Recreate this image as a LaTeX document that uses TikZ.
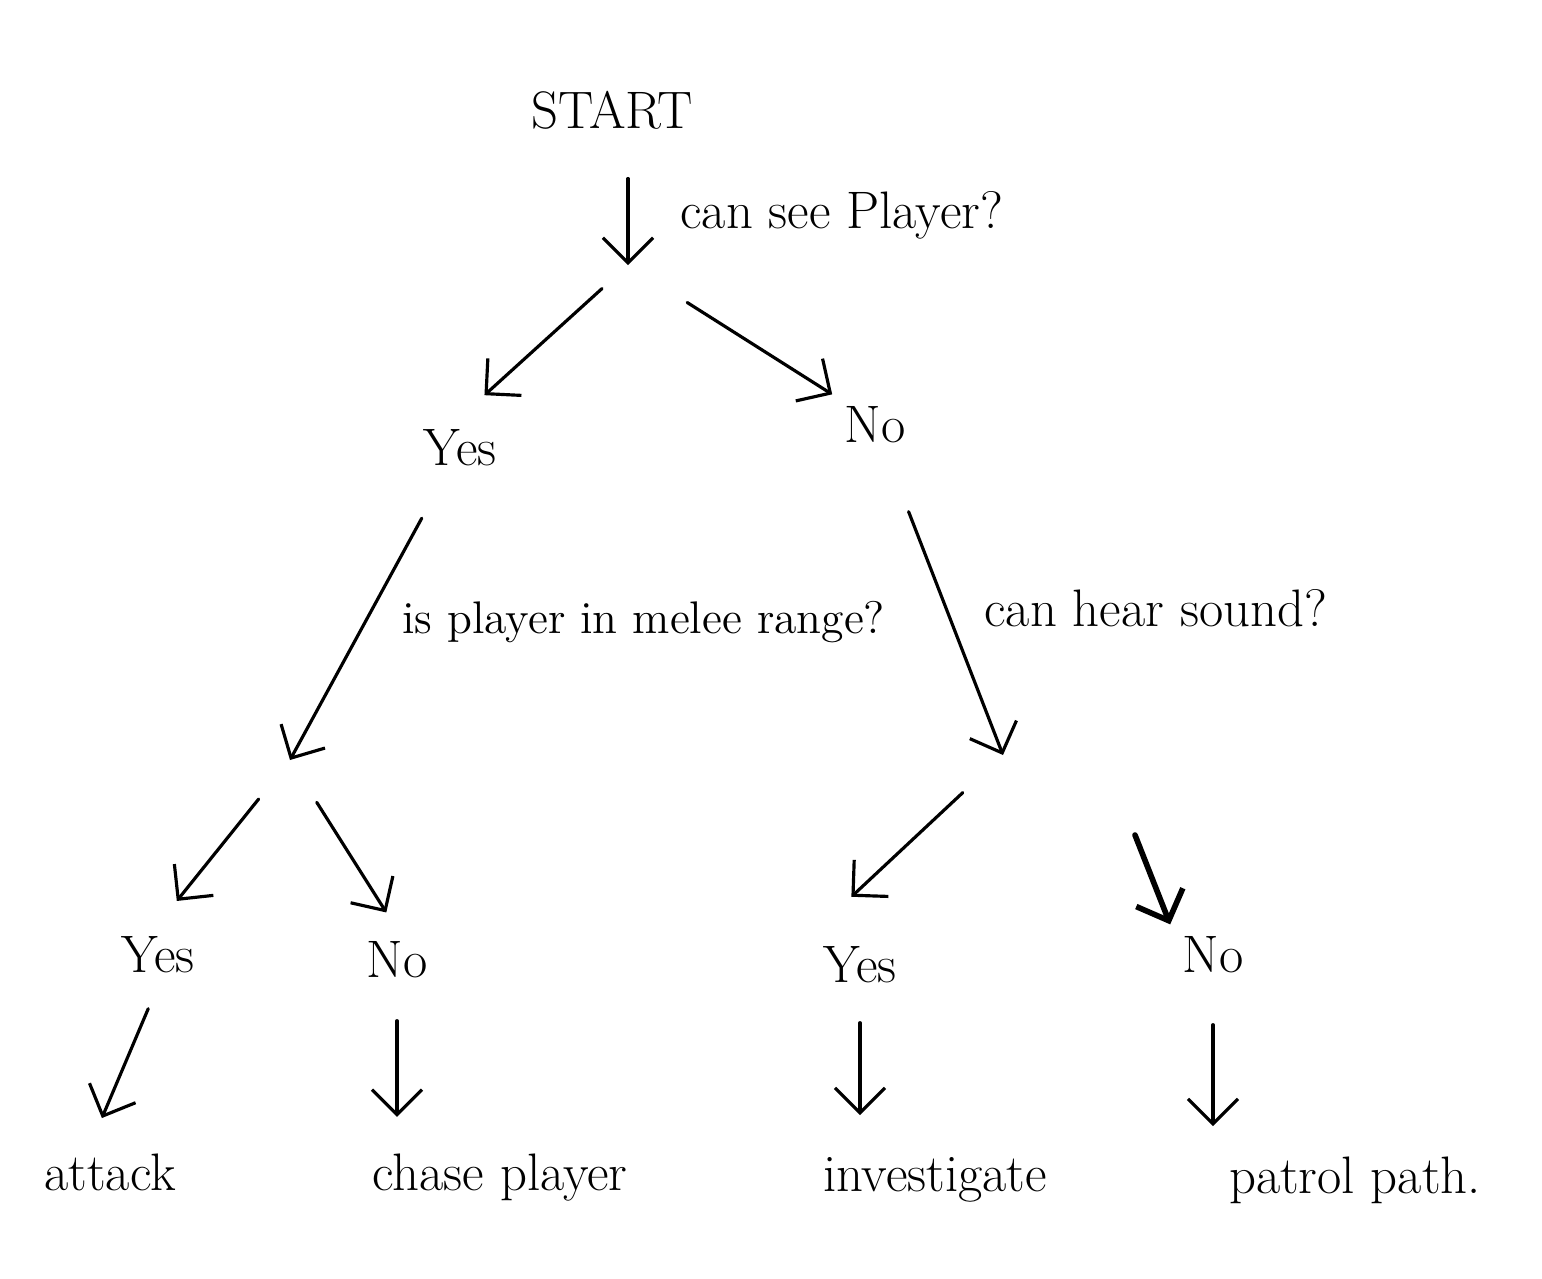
\documentclass[tikz,border=0pt]{standalone}
\usetikzlibrary{arrows.meta}

\begin{document}
\begin{tikzpicture}[x=0.01cm, y=-0.01cm,
    lbl/.style={font=\fontsize{15}{18}\selectfont},
    cond/.style={font=\fontsize{15}{18}\selectfont, anchor=west},
    arrow/.style={-{Straight Barb[length=2.5mm,width=5mm]}, line width=0.9pt, line cap=round, line join=round}
]
\useasboundingbox (0,0) rectangle (1542,1278);

% root and first question
\node[lbl] (start) at (612,110) {START};
\coordinate (s0) at (628,265);
\node[cond] (q1) at (668,215) {can see Player?};
\node[lbl] (yes1) at (460,448) {Yes};
\node[lbl] (no1) at (875,425) {No};

% second level questions
\coordinate (d1) at (290,760);
\coordinate (d2) at (1003,755);
\coordinate (d2b) at (1135,835);
\node[cond, font=\fontsize{13}{16}\selectfont] (q2) at (390,622) {is player in melee range?};
\node[cond] (q3) at (972,608) {can hear sound?};
\node[lbl] (yes2) at (158,955) {Yes};
\node[lbl] (no2) at (397,960) {No};
\node[lbl] (yes3) at (860,965) {Yes};
\node[lbl] (no3) at (1213,955) {No};

% actions
\node[lbl] (attack) at (110,1172) {attack};
\node[lbl] (chase) at (500,1178) {chase player};
\node[lbl] (investigate) at (935,1180) {investigate};
\node[lbl] (patrol) at (1355,1180) {patrol path.};

\draw[arrow, shorten <=3.7mm] (start.south -| s0) -- (s0);
\draw[arrow, shorten <=3.5mm, shorten >=3.3mm] (s0) -- (yes1.north);
\draw[arrow, shorten <=7mm] (s0) -- (no1.north west);
\draw[arrow, shorten <=4.5mm] (yes1) -- (d1);
\draw[arrow, shorten <=6mm] (no1) -- (d2);
\draw[arrow, shorten <=5mm, shorten >=3mm] (d1) -- (yes2.north);
\draw[arrow, shorten <=5mm, shorten >=2mm] (d1) -- (no2.north);
\draw[arrow, shorten <=5.5mm, shorten >=5.5mm] (d2) -- (yes3.north west);
\draw[arrow, line width=1.6pt] (d2b) -- (no3.north west);
\draw[arrow, shorten <=2.5mm, shorten >=2.5mm] (yes2.south) -- (attack.120);
\draw[arrow, shorten <=3mm, shorten >=2.5mm] (no2.south) -- (no2.south |- chase.north);
\draw[arrow, shorten <=2.7mm, shorten >=3mm] (yes3.south) -- (yes3.south |- investigate.north);
\draw[arrow, shorten <=3.9mm, shorten >=1.8mm] (no3.south) -- (no3.south |- patrol.north);
\end{tikzpicture}
\end{document}
